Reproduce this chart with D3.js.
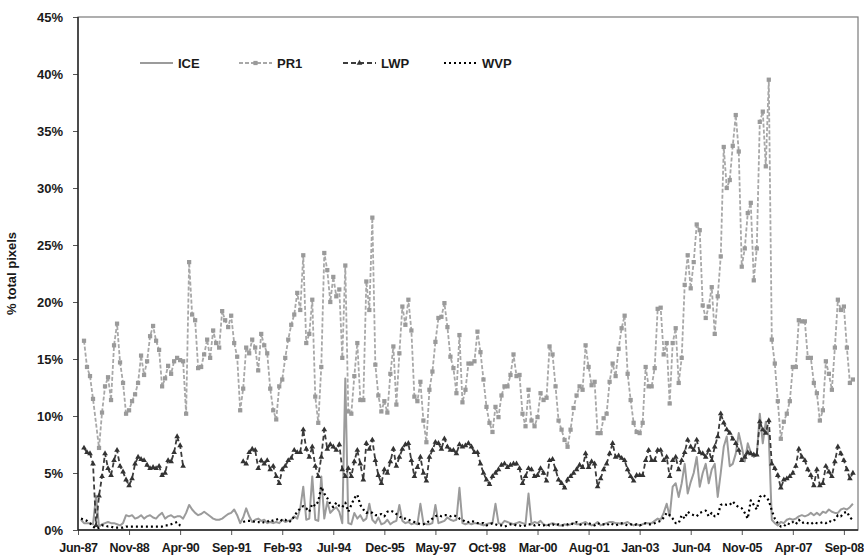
<!DOCTYPE html>
<html lang="en">
	<head>
		<meta charset="UTF-8" />
		<title>Pixel classes</title>
		<style>
			body { margin: 0; background: #fff; }
			text { font-family: 'Liberation Sans', Arial, sans-serif; font-weight: bold; fill: #1a1a1a; }
		</style>
	</head>
	<body>
		<div id="chart"></div>
		<script src="https://cdn.jsdelivr.net/npm/d3@7"></script>
		<script>
			// one value per month, starting Jun-87 (index 0)
			var tickLabels = ['Jun-87', 'Nov-88', 'Apr-90', 'Sep-91', 'Feb-93', 'Jul-94', 'Dec-95', 'May-97',
				'Oct-98', 'Mar-00', 'Aug-01', 'Jan-03', 'Jun-04', 'Nov-05', 'Apr-07', 'Sep-08'];
			var seriesNames = ['ICE', 'PR1', 'LWP', 'WVP'];

			var ice = [
				null, 0.9, 0.6, 0.6, 0.6, 0.5, 3.0, 0.3, 0.5, 0.6,
				0.7, 0.6, 0.6, 0.5, 0.4, 0.6, 1.3, 1.2, 1.3, 1.0,
				1.1, 1.3, 1.0, 1.2, 1.3, 1.1, 1.0, 1.3, 1.5, 1.0,
				1.2, 1.3, 1.1, 1.2, 1.2, 1.0, 1.5, 2.2, 1.8, 1.5,
				1.3, 1.4, 1.6, 1.4, 1.2, 1.0, 0.9, 0.9, 1.0, 1.2,
				1.4, 1.5, 1.8, 1.3, 0.6, 1.1, 1.9, 1.2, 0.7, 0.9,
				1.0, 0.8, 0.9, 0.6, 0.7, 0.6, 0.7, 0.6, 0.9, 0.7,
				0.8, 0.9, 1.2, 1.0, 1.9, 3.8, 0.9, 1.0, 4.7, 0.9,
				0.8, 4.7, 1.0, 2.5, 1.5, 1.8, 2.0, 1.6, 0.6, 13.3,
				0.6, 0.5, 1.5, 1.0, 1.3, 0.8, 1.0, 2.3, 0.9, 0.6,
				1.1, 0.5, 0.6, 0.9, 0.5, 0.7, 0.8, 2.2, 0.8, 0.6,
				0.7, 0.5, 0.6, 0.5, 2.3, 0.6, 0.5, 0.5, 0.6, 2.2,
				0.6, 0.7, 0.8, 1.1, 0.9, 0.8, 0.9, 3.7, 0.6, 0.5,
				0.6, 0.5, 0.6, 0.6, 0.5, 0.4, 0.5, 0.6, 0.6, 2.3,
				0.6, 0.5, 0.8, 0.7, 0.6, 0.5, 0.6, 0.7, 0.6, 0.5,
				3.2, 0.5, 0.7, 0.6, 0.8, 0.5, 0.4, 0.5, 0.6, 0.5,
				0.4, 0.4, 0.5, 0.4, 0.5, 0.6, 0.5, 0.5, 0.6, 0.7,
				0.5, 0.4, 0.5, 0.7, 0.4, 0.5, 0.6, 0.7, 0.7, 0.6,
				0.6, 0.5, 0.6, 0.7, 0.5, 0.4, 0.5, 0.4, 0.5, 0.6,
				0.6, 0.6, 0.8, 1.0, 0.9, 1.5, 2.3, 1.2, 3.8, 4.1,
				2.9, 4.1, 5.8, 3.2, 4.2, 5.0, 6.4, 3.8, 5.0, 5.8,
				4.1, 5.3, 5.8, 2.9, 5.0, 7.3, 8.2, 5.6, 5.8, 6.7,
				8.5, 7.3, 6.0, 7.6, 6.8, 6.4, 6.6, 10.2, 7.6, 9.5,
				8.2, 0.9, 0.6, 0.4, 0.7, 0.6, 0.9, 1.0, 0.9, 1.0,
				1.2, 1.3, 1.2, 1.3, 1.5, 1.3, 1.5, 1.3, 1.6, 1.5,
				1.8, 1.6, 1.5, 1.5, 1.8, 1.9, 1.8, 2.0, 2.3
			];

			var pr1 = [
				null, null, 16.6, 14.3, 13.5, 11.5, null, 7.2, 10.3, 12.6,
				13.4, 11.4, 16.2, 18.1, 14.7, 12.9, 10.2, 10.5, 11.3, 11.9,
				12.9, 15.3, 13.6, 14.8, 17.0, 17.9, 16.6, 15.8, 12.6, 13.3,
				14.4, 13.7, 14.8, 15.1, 14.9, 14.8, 10.2, 23.5, 18.9, 18.4,
				14.2, 14.3, 15.4, 16.7, 15.1, 17.5, 16.4, 16.0, 19.2, 18.4,
				17.8, 18.8, 16.4, 15.2, 10.5, 12.4, 16.0, 15.5, 16.7, 16.0,
				14.0, 17.2, 16.2, 15.5, 12.4, 10.5, 9.7, 12.6, 13.2, 15.1,
				16.7, 18.0, 18.9, 20.8, 19.3, 24.1, 16.4, 17.2, 20.2, 11.7,
				9.4, 14.3, 24.3, 22.8, 20.0, 22.2, 20.5, 21.1, 15.1, 23.2,
				10.4, 10.2, 13.5, 16.4, 11.4, 11.4, 21.8, 19.3, 27.4, 14.5,
				11.8, 10.4, 11.3, 10.3, 13.7, 16.1, 11.0, 15.5, 19.6, 18.0,
				20.2, 17.5, 11.7, 11.3, 13.0, 9.6, 7.7, 12.3, 13.9, 16.5,
				18.6, 18.7, 19.9, 17.8, 15.2, 14.2, 12.0, 17.1, 11.2, 12.3,
				14.6, 14.6, 14.8, 17.4, 15.6, 13.2, 10.8, 9.4, 8.6, 10.8,
				9.9, 11.8, 12.6, 12.6, 13.6, 15.4, 13.5, 13.6, 10.2, 9.1,
				12.3, 9.6, 9.1, 9.9, 12.0, 11.4, 11.6, 16.1, 15.4, 12.6,
				9.6, 8.8, 7.9, 7.3, 8.8, 10.7, 11.8, 12.6, 12.3, 16.2,
				14.3, 12.7, 13.0, 8.5, 8.5, 9.8, 10.2, 13.0, 14.6, 13.5,
				15.9, 17.7, 18.8, 13.7, 11.4, 9.4, 8.6, 8.5, 9.4, 14.3,
				12.6, 12.6, 14.2, 19.4, 19.5, 15.4, 16.4, 11.1, 16.4, 17.7,
				12.9, 15.1, 21.5, 24.1, 21.2, 23.5, 26.8, 26.3, 19.7, 18.6,
				19.6, 21.3, 17.2, 20.5, 24.0, 33.6, 30.0, 30.7, 33.7, 36.4,
				33.2, 23.1, 24.7, 27.8, 28.7, 21.9, 24.7, 35.8, 36.7, 31.9,
				39.5, 16.7, 14.6, 11.3, 8.0, 9.5, 10.2, 11.3, 14.3, 14.3,
				18.4, 18.3, 18.3, 15.1, 15.1, 12.9, 12.0, 9.6, 10.5, 14.8,
				13.7, 12.3, 16.0, 20.2, 19.3, 19.6, 16.0, 12.9, 13.2
			];

			var lwp = [
				null, null, 7.2, 6.8, 6.7, 5.8, 0.4, 3.0, 4.7, 6.7,
				5.4, 4.8, 6.1, 7.0, 5.6, 5.1, 4.4, 3.9, 4.5, 5.8,
				6.4, 6.2, 6.1, 5.7, 5.4, 5.5, 5.4, 5.6, 4.8, 5.0,
				6.1, 6.0, 6.8, 8.2, 7.4, 5.6, null, null, null, null,
				null, null, null, null, null, null, null, null, null, null,
				null, null, null, null, null, 6.0, 5.8, 6.8, 7.1, 7.0,
				5.4, 6.1, 5.8, 6.1, 5.3, 5.6, 4.7, 4.1, 5.3, 5.6,
				6.1, 6.3, 7.0, 6.8, 6.8, 8.8, 7.1, 6.4, 7.3, 5.6,
				4.7, 6.4, 8.8, 7.1, 7.5, 7.3, 7.0, 7.5, 5.3, 4.7,
				5.4, 4.7, 6.0, 7.0, 5.8, 4.4, 7.6, 7.1, 7.9, 6.1,
				4.8, 4.1, 5.3, 5.0, 6.0, 7.1, 5.6, 6.4, 7.1, 7.5,
				7.6, 6.1, 4.7, 5.5, 6.4, 5.0, 4.3, 6.4, 7.0, 7.7,
				7.6, 7.1, 8.0, 7.3, 7.0, 7.0, 6.7, 7.5, 7.3, 7.4,
				7.6, 7.3, 6.8, 6.8, 5.8, 5.0, 4.4, 4.0, 4.7, 5.0,
				5.3, 5.7, 5.8, 5.5, 5.7, 5.8, 5.8, 5.4, 4.1, 4.7,
				5.4, 5.3, 4.7, 4.8, 5.4, 5.0, 4.3, 6.1, 6.2, 5.3,
				4.4, 4.1, 3.7, 4.4, 4.7, 5.0, 5.3, 5.7, 5.5, 6.7,
				5.5, 6.0, 5.8, 3.8, 4.5, 5.3, 5.8, 6.7, 7.6, 6.4,
				6.5, 6.3, 6.1, 5.3, 4.7, 4.3, 4.8, 4.8, 4.8, 6.1,
				7.0, 6.1, 6.1, 7.0, 7.0, 6.1, 6.4, 4.7, 6.1, 6.4,
				5.3, 6.1, 6.8, 7.9, 7.3, 7.0, 7.9, 6.8, 6.7, 6.4,
				7.0, 6.1, 7.3, 8.2, 10.2, 9.4, 8.8, 8.5, 8.0, 7.6,
				7.0, 6.1, 6.4, 6.8, 6.7, 6.6, 6.6, 9.5, 8.8, 8.5,
				9.6, 5.8, 5.4, 4.8, 3.7, 4.4, 4.5, 4.7, 5.0, 5.6,
				7.1, 6.4, 6.1, 5.3, 4.8, 3.9, 5.3, 3.9, 4.1, 5.6,
				5.1, 4.7, 6.0, 7.3, 6.7, 6.1, 5.3, 4.5, 5.0
			];

			var wvp = [
				null, 1.0, 0.9, 0.8, 0.6, 0.3, 0.1, 0.2, 0.4, 0.4,
				0.3, 0.3, 0.2, 0.2, 0.2, 0.2, 0.3, 0.3, 0.3, 0.3,
				0.3, 0.3, 0.3, 0.3, 0.3, 0.3, 0.3, 0.3, 0.3, 0.4,
				0.4, 0.5, 0.6, 0.7, 0.4, 0.3, null, null, null, null,
				null, null, null, null, null, null, null, null, null, null,
				null, null, null, null, null, 0.7, 0.8, 0.8, 0.8, 0.7,
				0.7, 0.6, 0.7, 0.7, 0.9, 0.8, 0.9, 1.0, 0.8, 0.9,
				0.7, 0.8, 1.2, 1.6, 1.9, 2.1, 1.9, 1.6, 2.3, 2.1,
				2.5, 3.8, 3.2, 2.8, 2.3, 2.0, 2.4, 2.1, 2.0, 2.4,
				1.6, 2.2, 2.8, 3.1, 2.2, 1.8, 1.5, 1.6, 1.5, 1.3,
				1.3, 1.4, 1.2, 1.6, 1.7, 1.6, 1.4, 1.2, 1.0, 1.0,
				0.9, 0.8, 0.7, 0.6, 0.5, 0.5, 0.6, 0.8, 1.0, 1.2,
				1.3, 1.2, 1.3, 1.3, 1.2, 1.3, 1.2, 1.0, 0.9, 0.7,
				0.7, 0.8, 0.7, 0.6, 0.6, 0.6, 0.4, 0.5, 0.6, 0.5,
				0.4, 0.4, 0.3, 0.4, 0.5, 0.5, 0.4, 0.4, 0.3, 0.4,
				0.5, 0.5, 0.4, 0.5, 0.4, 0.4, 0.5, 0.4, 0.5, 0.4,
				0.5, 0.4, 0.4, 0.5, 0.6, 0.5, 0.7, 0.5, 0.4, 0.5,
				0.6, 0.5, 0.4, 0.6, 0.5, 0.5, 0.4, 0.6, 0.5, 0.4,
				0.5, 0.6, 0.5, 0.4, 0.5, 0.4, 0.5, 0.4, 0.5, 0.6,
				0.5, 0.5, 0.6, 0.7, 0.8, 1.1, 1.5, 1.3, 1.0, 0.6,
				0.6, 1.3, 1.0, 1.6, 1.4, 1.3, 1.2, 1.5, 1.6, 1.7,
				1.2, 1.5, 1.2, 1.3, 2.2, 2.3, 2.2, 2.2, 2.5, 2.2,
				2.0, 1.9, 1.5, 1.0, 2.6, 2.2, 1.8, 2.9, 3.1, 2.9,
				2.6, 1.7, 1.0, 0.6, 0.3, 0.3, 0.6, 0.5, 0.7, 0.5,
				0.9, 0.6, 0.7, 0.6, 0.5, 0.7, 0.6, 0.6, 0.7, 0.6,
				0.8, 0.7, 0.9, 1.3, 1.2, 1.5, 1.6, 1.1, 0.9
			];

			var width = 864;
			var height = 555;
			// plot box (window.top is reserved, so no bare "top" here)
			var plotL = 78, plotR = 858, plotT = 17, plotB = 530;

			var x = d3.scaleLinear().domain([0, 259.7]).range([plotL, plotR]);
			var y = d3.scaleLinear().domain([0, 45]).range([plotB, plotT]);

			// drawing style for each series, same order as seriesNames
			var styles = [
				{ values: ice, stroke: '#9b9b9b', width: 2, dash: null, marker: null },
				{ values: pr1, stroke: '#a8a8a8', width: 1.8, dash: '4,2', marker: d3.symbolSquare, fill: '#9a9a9a', size: 18 },
				{ values: lwp, stroke: '#3c3c3c', width: 1.8, dash: '5,3', marker: d3.symbolTriangle, fill: '#333', size: 14 },
				{ values: wvp, stroke: '#000', width: 2.2, dash: '2,3', marker: null }
			];

			var svg = d3
				.select('#chart')
				.append('svg')
				.attr('width', width)
				.attr('height', height);

			// plot area border
			svg.append('rect')
				.attr('x', plotL)
				.attr('y', plotT)
				.attr('width', plotR - plotL)
				.attr('height', plotB - plotT)
				.attr('fill', 'none')
				.attr('stroke', '#7a7a7a')
				.attr('stroke-width', 1.2);

			var yAxis = svg.append('g')
				.attr('transform', 'translate(' + plotL + ',0)')
				.call(d3.axisLeft(y)
					.tickValues(d3.range(0, 46, 5))
					.tickFormat(function (d) { return d + '%'; })
					.tickSize(5)
					.tickPadding(10));
			yAxis.selectAll('text').style('font-size', '13px');

			var xAxis = svg.append('g')
				.attr('transform', 'translate(0,' + plotB + ')')
				.call(d3.axisBottom(x)
					.tickValues(d3.range(0, 256, 17))
					.tickFormat(function (d, i) { return tickLabels[i]; })
					.tickSize(5)
					.tickPadding(8));
			// slightly tighter so Sep-08 fits inside the frame like the original
			xAxis.selectAll('text')
				.style('font-size', '12.5px')
				.style('letter-spacing', '-0.3px');

			svg.selectAll('.domain').remove();
			svg.selectAll('.tick line').attr('stroke', '#555');

			// axis lines
			svg.append('line')
				.attr('x1', plotL).attr('x2', plotL)
				.attr('y1', plotT).attr('y2', plotB)
				.attr('stroke', '#222').attr('stroke-width', 1.4);
			svg.append('line')
				.attr('x1', plotL).attr('x2', plotR)
				.attr('y1', plotB).attr('y2', plotB)
				.attr('stroke', '#222').attr('stroke-width', 1.4);

			svg.append('text')
				.attr('transform', 'translate(16,' + (plotT + plotB) / 2 + ') rotate(-90)')
				.attr('text-anchor', 'middle')
				.style('font-size', '13px')
				.text('% total pixels');

			// split a series into runs, breaking where more than 2 months are missing
			function runs(values) {
				var out = [], cur = [], last = -10;
				values.forEach(function (v, i) {
					if (v == null) return;
					if (i - last > 2 && cur.length) {
						out.push(cur);
						cur = [];
					}
					cur.push({ i: i, v: v });
					last = i;
				});
				if (cur.length) out.push(cur);
				return out;
			}

			var line = d3.line()
				.x(function (d) { return x(d.i); })
				.y(function (d) { return y(d.v); });

			styles.forEach(function (s, k) {
				var g = svg.append('g').attr('class', 'series-' + seriesNames[k]);
				g.selectAll('path.line')
					.data(runs(s.values))
					.enter()
					.append('path')
					.attr('class', 'line')
					.attr('d', line)
					.attr('fill', 'none')
					.attr('stroke', s.stroke)
					.attr('stroke-width', s.width)
					.attr('stroke-dasharray', s.dash)
					.attr('stroke-linejoin', 'round');
				if (s.marker) {
					var pts = [];
					s.values.forEach(function (v, i) {
						if (v != null) pts.push({ i: i, v: v });
					});
					g.selectAll('path.mark')
						.data(pts)
						.enter()
						.append('path')
						.attr('class', 'mark')
						.attr('d', d3.symbol().type(s.marker).size(s.size))
						.attr('transform', function (d) {
							return 'translate(' + x(d.i) + ',' + y(d.v) + ')';
						})
						.attr('fill', s.fill);
				}
			});

			// legend
			var legendX = [140, 239, 343, 444];
			var legend = svg.selectAll('.legend')
				.data(styles)
				.enter()
				.append('g')
				.attr('class', 'legend')
				.attr('transform', function (d, i) {
					return 'translate(' + legendX[i] + ',63)';
				});
			legend.append('line')
				.attr('x1', 0).attr('x2', 33)
				.attr('stroke', function (d) { return d.stroke; })
				.attr('stroke-width', function (d) { return d.width; })
				.attr('stroke-dasharray', function (d) { return d.dash; });
			legend.filter(function (d) { return d.marker; })
				.append('path')
				.attr('d', function (d) { return d3.symbol().type(d.marker).size(d.size)(); })
				.attr('transform', 'translate(16.5,0)')
				.attr('fill', function (d) { return d.fill; });
			legend.append('text')
				.attr('x', 38)
				.attr('y', 5)
				.style('font-size', '13px')
				.text(function (d, i) { return seriesNames[i]; });
		</script>
	</body>
</html>
